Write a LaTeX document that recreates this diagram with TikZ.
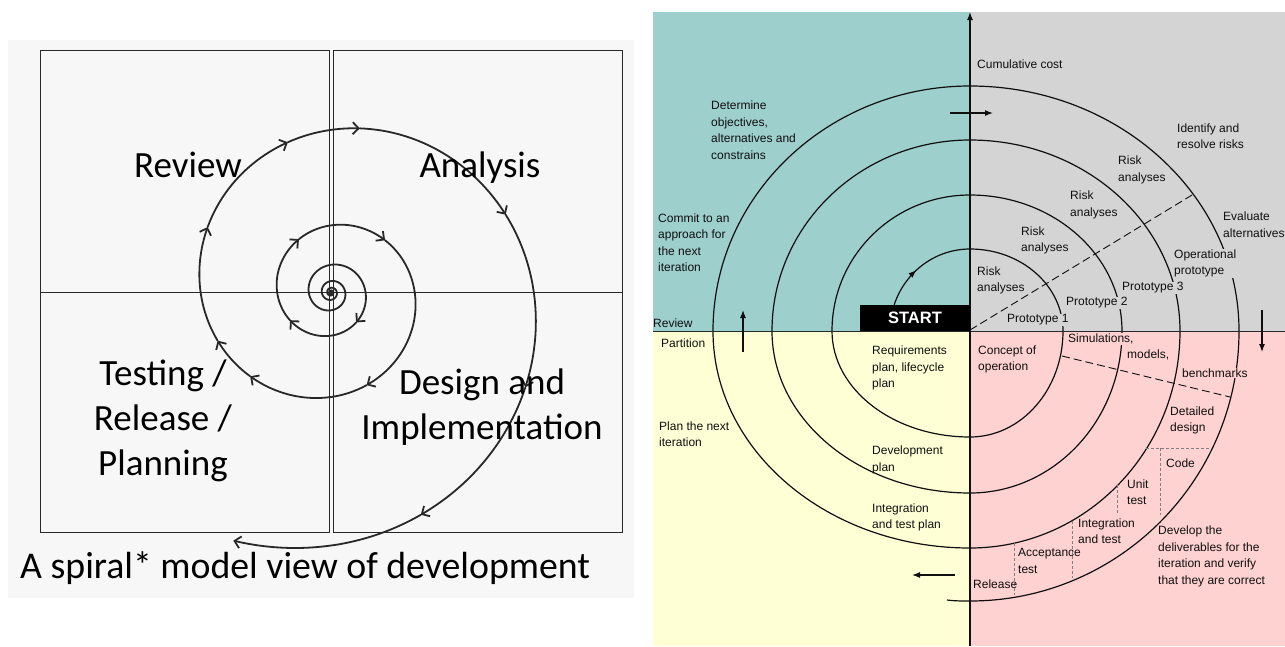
\documentclass[tikz,border=0pt]{standalone}
\usepackage{fontspec}
\setmainfont{Carlito}
\newfontfamily\rfont{Liberation Sans}
\usetikzlibrary{arrows.meta,decorations.markings}
\definecolor{lpanel}{RGB}{247,247,247}
\definecolor{cteal}{RGB}{157,207,205}
\definecolor{cgray}{RGB}{212,212,212}
\definecolor{cyellow}{RGB}{255,255,214}
\definecolor{cpink}{RGB}{255,210,210}
\definecolor{ink}{RGB}{15,15,15}
\definecolor{boxc}{RGB}{40,40,40}
\newcommand\spk{0.5523}
\newcommand\qtr[2]{.. controls ({\spk*#1},-#2) and (#1,{-\spk*#2}) .. (#1,0)}
\newcommand\qbr[2]{.. controls (#1,{\spk*#2}) and ({\spk*#1},#2) .. (0,#2)}
\newcommand\qbl[2]{.. controls ({-\spk*#1},#2) and (-#1,{\spk*#2}) .. (-#1,0)}
\newcommand\qtl[2]{.. controls (-#1,{-\spk*#2}) and ({-\spk*#1},-#2) .. (0,-#2)}
\newcommand\lsp[3]{plot[domain=#1:#2, samples=#3] ({331+253*exp(-0.00245*(\x+90))*cos(\x)}, {292.5-253*exp(-0.00245*(\x+90))*sin(\x)})}
\begin{document}
\begin{tikzpicture}[x=1pt,y=-1pt,
  lab/.style={font=\rfont\fontsize{12}{16.5}\selectfont, text=ink, align=left, anchor=west, inner sep=0pt},
  labf/.style={lab, inner sep=1pt},
  bigtxt/.style={font=\fontsize{37}{45}\selectfont, text=black, align=center},
  arcline/.style={draw=ink, line width=1.2pt},
  dashln/.style={draw=ink, line width=0.9pt, dash pattern=on 8pt off 4pt},
  dotln/.style={draw=gray, line width=1pt, dash pattern=on 3pt off 2pt},
  axarr/.style={draw=ink, line width=1.1pt, -{Latex[length=8pt,width=6pt]}},
  sp/.style={draw=boxc, line width=1.8pt, line cap=round},
  sparr/.style={sp, -{Straight Barb[length=6pt,width=12pt]}},
  boxline/.style={draw=boxc, line width=1pt}]
\useasboundingbox (0,0) rectangle (1285,646);
\fill[white] (0,0) rectangle (1285,646);
% ---------------- left diagram ----------------
\fill[lpanel] (8,40) rectangle (634,598);
\draw[boxline] (40,50) rectangle (329,532);
\draw[boxline] (333,50) rectangle (622,532);
\draw[boxline] (40,292.5) -- (622,292.5);
\draw[sparr] \lsp{1880}{670}{500};
\draw[sparr] \lsp{670}{574}{40};
\draw[sparr] \lsp{574}{481}{40};
\draw[sparr] \lsp{481}{404}{40};
\draw[sparr] \lsp{404}{291}{50};
\draw[sparr] \lsp{291}{226}{40};
\draw[sparr] \lsp{226}{203}{30};
\draw[sparr] \lsp{203}{152}{40};
\draw[sparr] \lsp{152}{106}{40};
\draw[sparr] \lsp{106}{80}{30};
\draw[sparr] \lsp{80}{24}{40};
\draw[sparr] \lsp{24}{-26}{40};
\draw[sparr] \lsp{-26}{-68}{40};
\draw[sparr] \lsp{-68}{-111.5}{40};
\fill[boxc] (331,292.5) circle (3pt);
\node[bigtxt] (review) at (188,165) {Review};
\node[bigtxt] (analysis) at (480,168) {Analysis};
\node[bigtxt] (testing) at (163,421) {Testing /\\Release /\\Planning};
\node[bigtxt] (design) at (482,407) {Design and\\Implementation};
\node[font=\fontsize{37.8}{45}\selectfont, anchor=west, inner sep=0pt] (caption) at (20,568) {A spiral* model view of development};
% ---------------- right diagram ----------------
\fill[cteal] (653,12) rectangle (970,331);
\fill[cgray] (970,12) rectangle (1285,331);
\fill[cyellow] (653,331) rectangle (970,646);
\fill[cpink] (970,331) rectangle (1285,646);
\begin{scope}[shift={(970,331)}]
\draw[arcline] (0,-82) \qtr{93}{82} \qbr{93}{106} \qbl{138}{106} \qtl{138}{136}
  \qtr{152}{136} \qbr{152}{162} \qbl{198}{162} \qtl{198}{191}
  \qtr{210}{191} \qbr{210}{217} \qbl{257}{217} \qtl{257}{245}
  \qtr{269}{245} \qbr{269}{270} .. controls (-8,270) and (-16,270) .. (-23,269);
\end{scope}
\draw[arcline, postaction={decorate}, decoration={markings, mark=at position 0.42 with {\arrow{Latex[length=8pt,width=6pt]}}}]
  plot[domain=162:90, samples=40] ({970+80*cos(\x)},{331-82*sin(\x)});
\draw[dashln] (970,330) -- (1192,195);
\draw[dashln] (1062,356) -- (1230,397);
\draw[dotln] (1146,448) -- (1211,448);
\draw[dotln] (1160,448) -- (1160,515);
\draw[dotln] (1117,485) -- (1117,514);
\draw[dotln] (1072,521) -- (1072,578);
\draw[dotln] (1014,543) -- (1014,595);
% labels
\node[lab] (detobj) at (711,130) {Determine\\objectives,\\alternatives and\\constrains};
\node[lab] (commit) at (658,242.5) {Commit to an\\approach for\\the next\\iteration};
\node[lab] (reviewr) at (653,323) {Review};
\node[lab] (cumcost) at (977,64) {Cumulative cost};
\node[lab] (identify) at (1177,136) {Identify and\\resolve risks};
\node[lab] (risk4) at (1118,170) {Risk\\analyses};
\node[lab] (risk3) at (1070,205) {Risk\\analyses};
\node[lab] (risk2) at (1021,240.5) {Risk\\analyses};
\node[lab] (risk1) at (977,280.5) {Risk\\analyses};
\node[lab] (evaluate) at (1223,224.5) {Evaluate\\alternatives};
\node[labf, fill=cgray] (oper) at (1173,263.5) {Operational\\prototype};
\node[labf, fill=cgray] (proto3) at (1121,288) {Prototype 3};
\node[labf, fill=cgray] (proto2) at (1065,303) {Prototype 2};
\node[labf, fill=cgray] (proto1) at (1006,320) {Prototype 1};
\node[lab] (partition) at (661,343) {Partition};
\node[lab] (reqplan) at (872,368) {Requirements\\plan, lifecycle\\plan};
\node[lab] (plannext) at (659,434) {Plan the next\\iteration};
\node[lab] (devplan) at (872,460) {Development\\plan};
\node[lab] (itplan) at (872,517.5) {Integration\\and test plan};
\node[lab] (concept) at (978,359.5) {Concept of\\operation};
\node[labf, fill=cpink] (simul) at (1067,339) {Simulations,};
\node[lab] (models) at (1127,355) {models,};
\node[labf, fill=cpink] (bench) at (1181,373) {benchmarks};
\node[lab] (detail) at (1170,420.5) {Detailed\\design};
\node[lab] (code) at (1166,463) {Code};
\node[lab] (unittest) at (1127,492) {Unit\\test};
\node[lab] (inttest) at (1078,531) {Integration\\and test};
\node[lab] (acctest) at (1018,561) {Acceptance\\test};
\node[lab] (release) at (973,584) {Release};
\node[lab] (develop) at (1158,556.5) {Develop the\\deliverables for the\\iteration and verify\\that they are correct};
% axes and arrows
\draw[draw=boxc, line width=0.9pt] (653,331) -- (1285,331);
\coordinate (axb) at (970,646);
\coordinate (axt) at (970,12);
\draw[axarr] (axb) -- (axt);
\coordinate (ta) at (950,113); \coordinate (tb) at (993,113);
\coordinate (ra) at (1262,310); \coordinate (rb) at (1262,352);
\coordinate (ba) at (955,575); \coordinate (bb) at (912,575);
\coordinate (la) at (743,352); \coordinate (lb) at (743,310);
\draw[axarr] (ta) -- (tb);
\draw[axarr] (ra) -- (rb);
\draw[axarr] (ba) -- (bb);
\draw[axarr] (la) -- (lb);
\node[fill=black, text=white, font=\rfont\bfseries\fontsize{16.5}{16.5}\selectfont, minimum width=110pt, minimum height=26pt, inner sep=0pt] (start) at (915,318) {START};
\end{tikzpicture}
\end{document}
